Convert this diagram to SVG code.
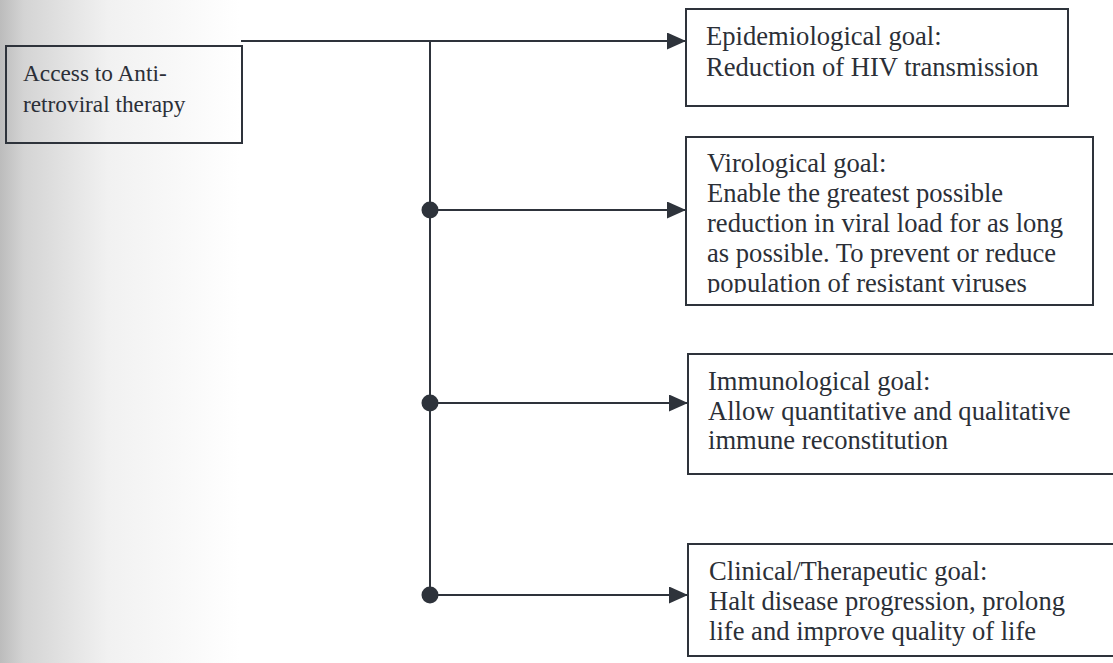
<svg xmlns="http://www.w3.org/2000/svg" width="1113" height="663" viewBox="0 0 1113 663">
  <style>
    .box { fill: none; stroke: #2e333b; stroke-width: 2; }
    .t { font-family: "Liberation Serif", "Times New Roman", serif; fill: #2b2f37; }
    .t26 { font-size: 26.6px; }
    .t24 { font-size: 23.3px; }
    .conn { stroke: #2e333b; stroke-width: 2; fill: none; }
    .dot { fill: #2e333b; }
  </style>
  <defs>
    <linearGradient id="scan" gradientUnits="userSpaceOnUse" x1="0" y1="0" x2="240" y2="0">
      <stop offset="0" stop-color="#bcbcbc"/>
      <stop offset="0.1" stop-color="#d4d4d4"/>
      <stop offset="0.45" stop-color="#f1f1f1"/>
      <stop offset="1" stop-color="#ffffff"/>
    </linearGradient>
    <marker id="arr" viewBox="0 0 19 17" refX="19" refY="8.5" markerWidth="19" markerHeight="17" markerUnits="userSpaceOnUse" orient="auto">
      <path d="M0,0 L19,8.5 L0,17 z" fill="#2e333b"/>
    </marker>
    <clipPath id="clipV">
      <rect x="686" y="137" width="407" height="156"/>
    </clipPath>
  </defs>

  <rect x="0" y="0" width="1113" height="663" fill="url(#scan)"/>

  <g id="connectors">
    <path class="conn" d="M241,41 H686" marker-end="url(#arr)"/>
    <path class="conn" d="M430,41 V595"/>
    <path class="conn" d="M430,210 H686" marker-end="url(#arr)"/>
    <path class="conn" d="M430,403 H688" marker-end="url(#arr)"/>
    <path class="conn" d="M430,595 H688" marker-end="url(#arr)"/>
    <circle class="dot" cx="430" cy="210" r="8.5"/>
    <circle class="dot" cx="430" cy="403" r="8.5"/>
    <circle class="dot" cx="430" cy="595" r="8.5"/>
  </g>

  <g id="access">
    <rect class="box" x="6" y="46" width="236" height="97"/>
    <text class="t t24" x="23" y="81">Access to Anti-</text>
    <text class="t t24" x="23" y="112">retroviral therapy</text>
  </g>

  <g id="epidemiological">
    <rect class="box" x="686" y="9" width="382" height="97"/>
    <text class="t t26" x="706" y="45">Epidemiological goal:</text>
    <text class="t t26" x="706" y="76">Reduction of HIV transmission</text>
  </g>

  <g id="virological">
    <rect class="box" x="686" y="137" width="407" height="168"/>
    <text class="t t26" x="707" y="172">Virological goal:</text>
    <text class="t t26" x="707" y="202">Enable the greatest possible</text>
    <text class="t t26" x="707" y="232">reduction in viral load for as long</text>
    <text class="t t26" x="707" y="262">as possible. To prevent or reduce</text>
    <text class="t t26" x="707" y="292" clip-path="url(#clipV)">population of resistant viruses</text>
  </g>

  <g id="immunological">
    <rect class="box" x="688" y="354" width="440" height="120"/>
    <text class="t t26" x="708" y="390">Immunological goal:</text>
    <text class="t t26" x="708" y="420">Allow quantitative and qualitative</text>
    <text class="t t26" x="708" y="449">immune reconstitution</text>
  </g>

  <g id="clinical">
    <rect class="box" x="688" y="544" width="440" height="112"/>
    <text class="t t26" x="709" y="580">Clinical/Therapeutic goal:</text>
    <text class="t t26" x="709" y="610">Halt disease progression, prolong</text>
    <text class="t t26" x="709" y="640">life and improve quality of life</text>
  </g>
</svg>
